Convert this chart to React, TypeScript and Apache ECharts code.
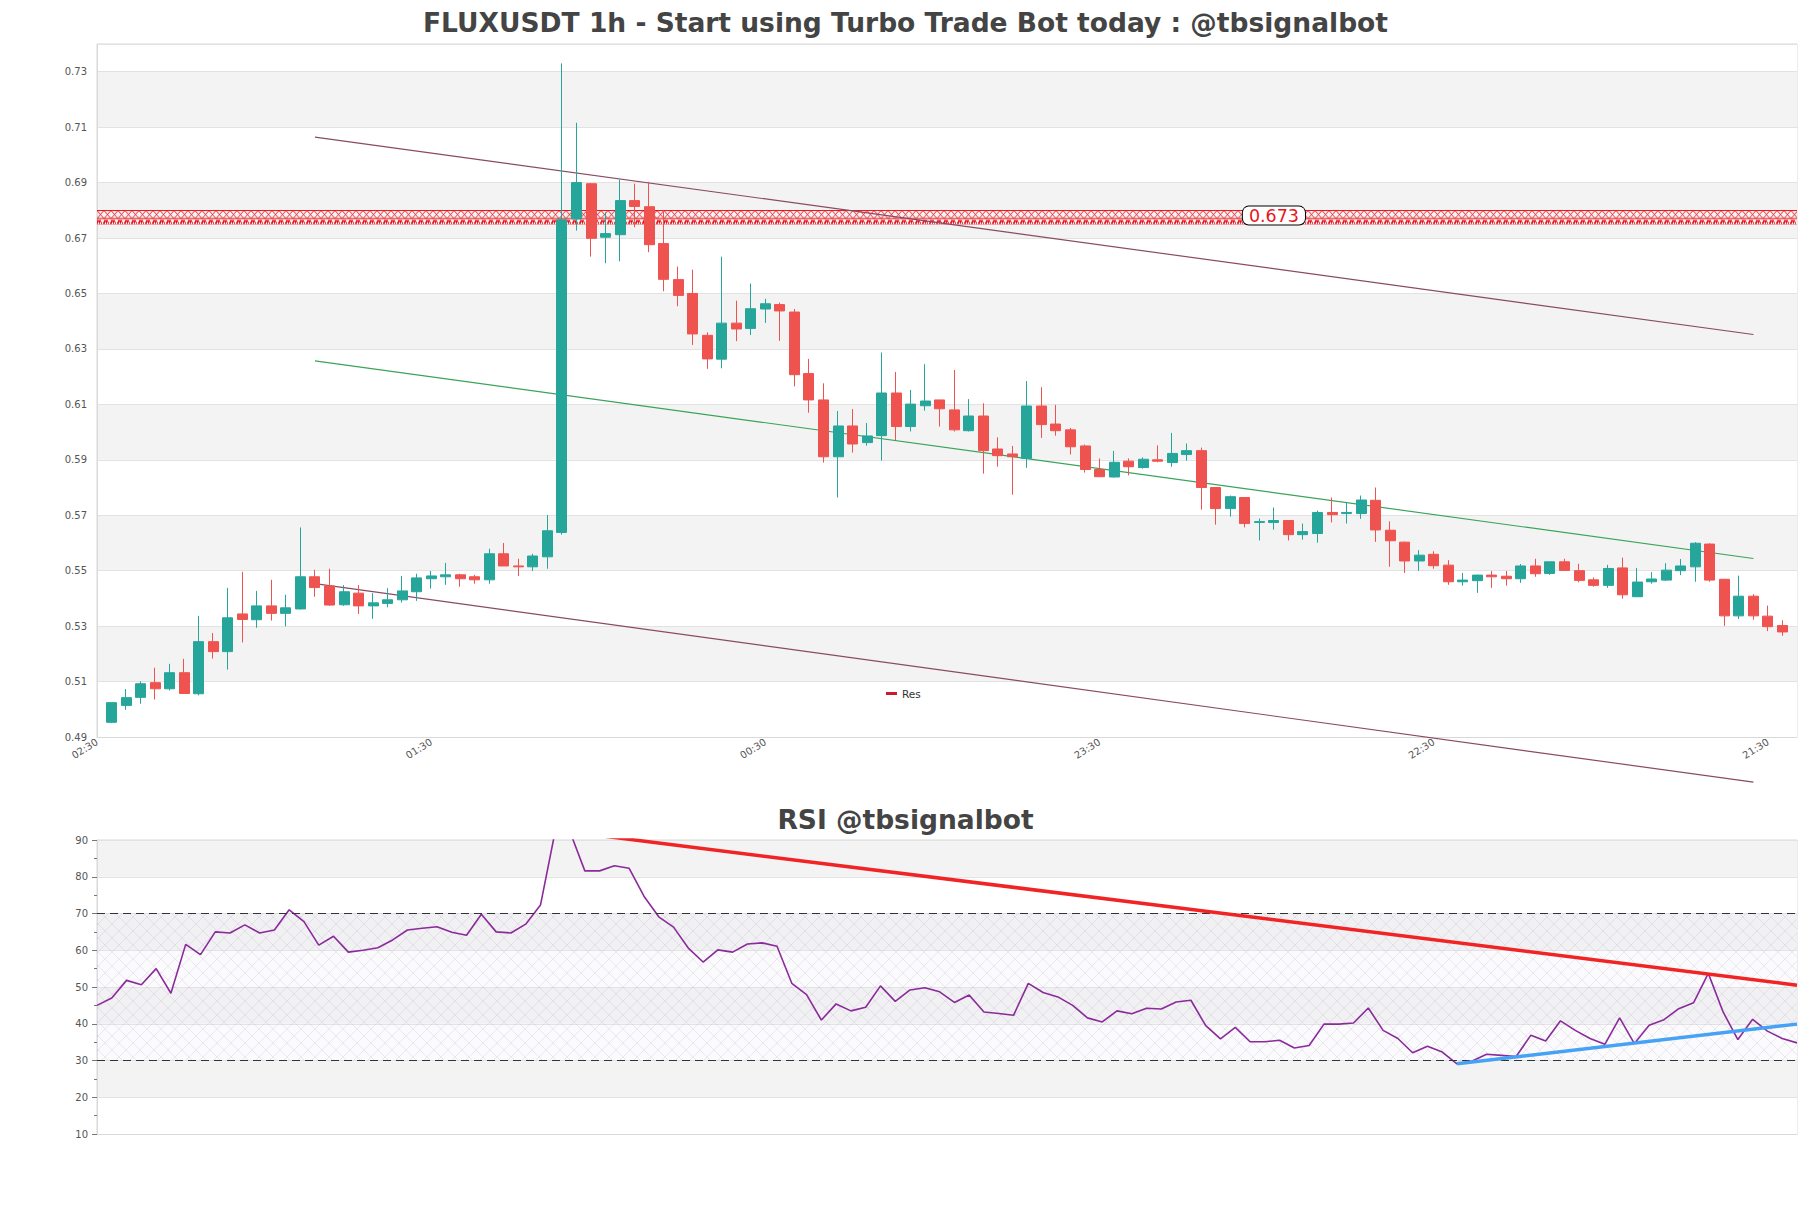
import React, { useEffect, useRef } from 'react';
import * as echarts from 'echarts';

const FONT = 'DejaVu Sans';
const MAIN_TITLE = 'FLUXUSDT 1h - Start using Turbo Trade Bot today : @tbsignalbot';
const RSI_TITLE = 'RSI @tbsignalbot';
const X_TICK_LABELS = ['02:30', '01:30', '00:30', '23:30', '22:30', '21:30'];
const X_TICK_STEP = 23;

const OPEN = [
  0.4953, 0.5014, 0.5043, 0.5096, 0.5074, 0.5132, 0.5056, 0.5244, 0.5208, 0.5344,
  0.5323, 0.5373, 0.5346, 0.5362, 0.5478, 0.5445, 0.5377, 0.5419, 0.5373, 0.5382,
  0.5395, 0.5424, 0.5471, 0.5478, 0.5485, 0.5478, 0.5467, 0.5561, 0.5517, 0.5514,
  0.5550, 0.5638, 0.6769, 0.6896, 0.6703, 0.6712, 0.6835, 0.6813, 0.6680, 0.6550,
  0.6500, 0.6349, 0.6263, 0.6393, 0.6374, 0.6444, 0.6460, 0.6433, 0.6211, 0.6116,
  0.5911, 0.6022, 0.5962, 0.5987, 0.6141, 0.6020, 0.6095, 0.6116, 0.6080, 0.6005,
  0.6058, 0.5939, 0.5921, 0.5905, 0.6094, 0.6029, 0.6008, 0.5950, 0.5865, 0.5838,
  0.5895, 0.5872, 0.5900, 0.5890, 0.5919, 0.5933, 0.5800, 0.5724, 0.5764, 0.5674,
  0.5674, 0.5681, 0.5630, 0.5634, 0.5710, 0.5706, 0.5706, 0.5754, 0.5646, 0.5603,
  0.5535, 0.5559, 0.5520, 0.5460, 0.5464, 0.5484, 0.5480, 0.5471, 0.5517, 0.5490,
  0.5532, 0.5500, 0.5467, 0.5447, 0.5510, 0.5406, 0.5460, 0.5466, 0.5500, 0.5514,
  0.5596, 0.5469, 0.5337, 0.5408, 0.5336, 0.5302,
];
const HIGH = [
  0.5024, 0.5073, 0.5101, 0.5150, 0.5164, 0.5182, 0.5337, 0.5275, 0.5438, 0.5496,
  0.5427, 0.5467, 0.5413, 0.5656, 0.5503, 0.5507, 0.5448, 0.5448, 0.5419, 0.5437,
  0.5481, 0.5489, 0.5499, 0.5528, 0.5489, 0.5485, 0.5579, 0.5600, 0.5543, 0.5561,
  0.5701, 0.7330, 0.7116, 0.6898, 0.6793, 0.6911, 0.6896, 0.6903, 0.6800, 0.6597,
  0.6586, 0.6360, 0.6633, 0.6474, 0.6536, 0.6481, 0.6467, 0.6444, 0.6264, 0.6176,
  0.6076, 0.6083, 0.6033, 0.6287, 0.6217, 0.6152, 0.6245, 0.6116, 0.6224, 0.6119,
  0.6104, 0.5981, 0.5950, 0.6184, 0.6162, 0.6098, 0.6015, 0.5955, 0.5905, 0.5932,
  0.5905, 0.5909, 0.5952, 0.5997, 0.5959, 0.5944, 0.5800, 0.5771, 0.5764, 0.5688,
  0.5728, 0.5681, 0.5670, 0.5717, 0.5764, 0.5746, 0.5771, 0.5800, 0.5678, 0.5605,
  0.5574, 0.5570, 0.5538, 0.5492, 0.5486, 0.5499, 0.5499, 0.5524, 0.5543, 0.5532,
  0.5543, 0.5525, 0.5475, 0.5521, 0.5547, 0.5510, 0.5495, 0.5527, 0.5542, 0.5603,
  0.5599, 0.5470, 0.5482, 0.5415, 0.5374, 0.5321,
];
const LOW = [
  0.4950, 0.4998, 0.5020, 0.5035, 0.5068, 0.5057, 0.5050, 0.5183, 0.5143, 0.5241,
  0.5294, 0.5320, 0.5299, 0.5360, 0.5406, 0.5373, 0.5373, 0.5344, 0.5326, 0.5368,
  0.5385, 0.5391, 0.5435, 0.5449, 0.5442, 0.5453, 0.5453, 0.5517, 0.5481, 0.5499,
  0.5507, 0.5630, 0.6727, 0.6633, 0.6609, 0.6616, 0.6739, 0.6649, 0.6508, 0.6454,
  0.6314, 0.6228, 0.6230, 0.6328, 0.6350, 0.6394, 0.6329, 0.6165, 0.6070, 0.5890,
  0.5764, 0.5926, 0.5951, 0.5897, 0.5971, 0.6002, 0.6077, 0.6020, 0.6002, 0.6002,
  0.5850, 0.5875, 0.5774, 0.5871, 0.5979, 0.5987, 0.5919, 0.5854, 0.5839, 0.5836,
  0.5844, 0.5868, 0.5891, 0.5875, 0.5897, 0.5720, 0.5666, 0.5695, 0.5656, 0.5609,
  0.5648, 0.5609, 0.5612, 0.5601, 0.5674, 0.5670, 0.5687, 0.5604, 0.5514, 0.5492,
  0.5499, 0.5507, 0.5449, 0.5446, 0.5420, 0.5438, 0.5446, 0.5456, 0.5478, 0.5485,
  0.5499, 0.5458, 0.5442, 0.5438, 0.5399, 0.5406, 0.5453, 0.5463, 0.5484, 0.5460,
  0.5460, 0.5301, 0.5326, 0.5323, 0.5282, 0.5265,
];
const CLOSE = [
  0.5024, 0.5042, 0.5092, 0.5074, 0.5132, 0.5057, 0.5244, 0.5208, 0.5330, 0.5324,
  0.5373, 0.5346, 0.5366, 0.5478, 0.5439, 0.5376, 0.5424, 0.5373, 0.5384, 0.5395,
  0.5427, 0.5474, 0.5481, 0.5485, 0.5471, 0.5467, 0.5561, 0.5517, 0.5514, 0.5553,
  0.5644, 0.6766, 0.6900, 0.6699, 0.6716, 0.6835, 0.6814, 0.6676, 0.6551, 0.6493,
  0.6354, 0.6264, 0.6393, 0.6372, 0.6445, 0.6463, 0.6437, 0.6207, 0.6116, 0.5911,
  0.6022, 0.5957, 0.5986, 0.6141, 0.6020, 0.6101, 0.6112, 0.6084, 0.6008, 0.6058,
  0.5933, 0.5915, 0.5911, 0.6094, 0.6027, 0.6005, 0.5947, 0.5865, 0.5839, 0.5891,
  0.5875, 0.5902, 0.5895, 0.5923, 0.5933, 0.5800, 0.5724, 0.5767, 0.5670, 0.5677,
  0.5681, 0.5630, 0.5641, 0.5710, 0.5702, 0.5710, 0.5755, 0.5647, 0.5608, 0.5535,
  0.5556, 0.5518, 0.5460, 0.5466, 0.5484, 0.5478, 0.5471, 0.5517, 0.5489, 0.5532,
  0.5501, 0.5465, 0.5447, 0.5508, 0.5413, 0.5459, 0.5470, 0.5502, 0.5517, 0.5599,
  0.5466, 0.5337, 0.5408, 0.5337, 0.5298, 0.5279,
];

const RSI = [
  45.0, 47.0, 51.8, 50.6, 55.0, 48.3, 61.6, 58.8, 65.0, 64.7,
  66.9, 64.7, 65.5, 71.0, 67.8, 61.4, 63.8, 59.5, 60.0, 60.7,
  62.8, 65.5, 66.0, 66.4, 64.9, 64.1, 69.8, 65.0, 64.7, 67.1,
  72.3, 92.5, 92.2, 81.6, 81.6, 83.0, 82.3, 74.7, 69.1, 66.3,
  60.6, 56.8, 60.1, 59.5, 61.7, 62.0, 61.1, 51.0, 47.9, 41.0,
  45.4, 43.5, 44.5, 50.3, 46.1, 49.2, 49.8, 48.7, 45.8, 47.8,
  43.2, 42.8, 42.3, 51.0, 48.5, 47.3, 45.0, 41.6, 40.5, 43.5,
  42.7, 44.2, 44.0, 45.9, 46.4, 39.5, 35.9, 39.0, 35.1, 35.1,
  35.5, 33.4, 34.1, 39.9, 39.9, 40.2, 44.3, 38.2, 36.0, 32.1,
  33.9, 32.3, 29.1, 29.8, 31.7, 31.4, 31.1, 36.9, 35.3, 40.8,
  38.2, 36.0, 34.4, 41.6, 34.6, 39.6, 41.1, 44.1, 45.7, 53.7,
  43.2, 35.7, 41.2, 38.0, 36.0, 34.8,
];

// trend lines: [candle index, price]
const UPPER_CHANNEL = [[14, 0.7064], [113, 0.6352]];
const LOWER_CHANNEL = [[14, 0.5453], [113, 0.4737]];
const MID_TREND = [[14, 0.6257], [113, 0.5544]];
const RES_ZONE = [0.6749, 0.6801];
const RES_LABEL = '0.673';
const RES_LABEL_POS = [80, 0.6781];
// RSI trend lines: [rsi index, value]
const RSI_RES_LINE = [[32, 92.2], [115, 50.5]];
const RSI_SUP_LINE = [[92, 29.1], [115, 39.9]];
const RSI_LEVELS = [70, 30];
const RSI_HATCH = [30, 70];

const UP = '#26a69a';
const DOWN = '#ef5350';
const GRID_LINE = '#e2e2e2';
const BAND = '#f3f3f3';
const BORDER = '#d9d9d9';

function makeHatch(): string {
  const c = document.createElement('canvas');
  c.width = 14;
  c.height = 14;
  const g = c.getContext('2d')!;
  g.fillStyle = 'rgba(235,228,240,0.18)';
  g.fillRect(0, 0, 14, 14);
  g.strokeStyle = 'rgba(165,155,180,0.34)';
  g.lineWidth = 0.6;
  g.beginPath();
  g.moveTo(0, 0); g.lineTo(14, 14);
  g.moveTo(14, 0); g.lineTo(0, 14);
  g.stroke();
  return c.toDataURL();
}

function makeZoneTile(h: number): string {
  const w = 7;
  const c = document.createElement('canvas');
  c.width = w;
  c.height = h;
  const g = c.getContext('2d')!;
  const red = '#e8141c';
  const xh = Math.round(h * 0.58);
  g.fillStyle = red;
  g.fillRect(0, 0, w, 1);
  g.fillRect(0, xh, w, 1);
  g.strokeStyle = red;
  g.lineWidth = 0.9;
  g.beginPath();
  g.moveTo(0, 0.5); g.lineTo(w, xh + 0.5);
  g.moveTo(w, 0.5); g.lineTo(0, xh + 0.5);
  g.stroke();
  const dy = Math.round(h * 0.72);
  g.fillRect(0, dy, 4, 2);
  for (let x = 0; x < w; x += 2) g.fillRect(x, h - 2, 1, 2);
  return c.toDataURL();
}

export default function App() {
  const ref = useRef<HTMLDivElement>(null);
  useEffect(() => {
    const el = ref.current!;
    const chart = echarts.init(el, undefined, { renderer: 'svg' });
    const n = OPEN.length;
    const mainCats = Array.from({ length: n + 2 }, (_, i) => String(i));
    const rsiCats = RSI.map((_, i) => String(i));
    const candleData = OPEN.map((o, i) => [i + 1, o, CLOSE[i], LOW[i], HIGH[i]]);
    const shift = (pts: number[][]) => pts.map(([i, v]) => [i + 1, v]);
    const hatch = makeHatch();

    const thinLine = (name: string, data: number[][], color: string, clip = true) => ({
      name,
      type: 'line',
      xAxisIndex: 0,
      yAxisIndex: 0,
      data: shift(data),
      symbol: 'none',
      clip,
      silent: true,
      lineStyle: { color, width: 1.2 },
      z: 3,
    });

    const option: any = {
      animation: false,
      backgroundColor: '#ffffff',
      textStyle: { fontFamily: FONT },
      title: [
        {
          text: MAIN_TITLE,
          left: 'center',
          top: 4,
          textStyle: { fontFamily: FONT, fontSize: 26.5, fontWeight: 'bold', color: '#444444' },
        },
        {
          text: RSI_TITLE,
          left: 'center',
          top: 801,
          textStyle: { fontFamily: FONT, fontSize: 26.5, fontWeight: 'bold', color: '#444444' },
        },
      ],
      legend: {
        data: [{ name: 'Res', icon: 'rect' }],
        left: 886,
        top: 688,
        padding: 0,
        itemWidth: 11,
        itemHeight: 3,
        textStyle: { fontFamily: FONT, fontSize: 10.5, color: '#333' },
      },
      grid: [
        { left: 97, top: 44, width: 1700, height: 693, show: true, borderColor: BORDER, borderWidth: 1 },
        { left: 97, top: 840, width: 1700, height: 294, show: true, borderColor: BORDER, borderWidth: 1 },
      ],
      xAxis: [
        {
          type: 'category',
          gridIndex: 0,
          data: mainCats,
          boundaryGap: false,
          axisLine: { lineStyle: { color: BORDER } },
          axisTick: { show: false },
          splitLine: { show: false },
          axisLabel: {
            interval: (idx: number) => idx % X_TICK_STEP === 0 && idx / X_TICK_STEP < X_TICK_LABELS.length,
            formatter: (_v: string, idx: number) => X_TICK_LABELS[Math.round(idx / X_TICK_STEP)] ?? '',
            rotate: 32,
            margin: 4,
            fontSize: 10,
            color: '#555',
            fontFamily: FONT,
          },
        },
        {
          type: 'category',
          gridIndex: 1,
          data: rsiCats,
          boundaryGap: false,
          axisLine: { lineStyle: { color: BORDER } },
          axisTick: { show: false },
          axisLabel: { show: false },
          splitLine: { show: false },
        },
      ],
      yAxis: [
        {
          type: 'value',
          gridIndex: 0,
          min: 0.49,
          max: 0.74,
          interval: 0.02,
          axisLine: { show: true, lineStyle: { color: BORDER } },
          axisTick: { show: false },
          axisLabel: {
            fontSize: 10,
            color: '#555',
            margin: 10,
            fontFamily: FONT,
            formatter: (v: number) => (v > 0.735 ? '' : v.toFixed(2)),
          },
          splitLine: { show: true, lineStyle: { color: GRID_LINE } },
          splitArea: { show: true, areaStyle: { color: ['#ffffff', BAND] } },
        },
        {
          type: 'value',
          gridIndex: 1,
          min: 10,
          max: 90,
          interval: 10,
          axisLine: { show: true, lineStyle: { color: BORDER } },
          axisTick: { show: true, length: 5, lineStyle: { color: '#777' } },
          minorTick: { show: true, splitNumber: 2, length: 3, lineStyle: { color: '#777' } },
          axisLabel: { fontSize: 10, color: '#555', margin: 9, fontFamily: FONT },
          splitLine: { show: true, lineStyle: { color: GRID_LINE } },
          splitArea: { show: true, areaStyle: { color: ['#ffffff', BAND] } },
        },
      ],
      series: [
        {
          name: 'candles',
          type: 'candlestick',
          xAxisIndex: 0,
          yAxisIndex: 0,
          data: candleData,
          encode: { x: 0, y: [1, 2, 3, 4] },
          barWidth: 10.5,
          itemStyle: { color: UP, color0: DOWN, borderColor: UP, borderColor0: DOWN, borderWidth: 1 },
          z: 4,
        },
        thinLine('upper', UPPER_CHANNEL, '#8a4a62'),
        thinLine('lower', LOWER_CHANNEL, '#8a4a62', false),
        thinLine('trend', MID_TREND, '#3aa35a'),
        {
          id: 'res',
          name: 'Res',
          type: 'line',
          xAxisIndex: 0,
          yAxisIndex: 0,
          data: [],
          symbol: 'none',
          itemStyle: { color: '#cc1a2e' },
          lineStyle: { color: '#cc1a2e' },
          z: 2,
          markArea: {
            silent: true,
            data: [[{ yAxis: RES_ZONE[0] }, { yAxis: RES_ZONE[1] }]],
            itemStyle: { color: 'rgba(230,20,28,0.35)' },
          },
          markPoint: {
            silent: true,
            symbol: 'rect',
            symbolSize: 0,
            data: [{ coord: [RES_LABEL_POS[0] + 1, RES_LABEL_POS[1]], value: RES_LABEL }],
            label: {
              show: true,
              position: 'inside',
              formatter: RES_LABEL,
              color: '#e8141c',
              fontSize: 17.5,
              fontFamily: FONT,
              backgroundColor: '#ffffff',
              borderColor: '#000000',
              borderWidth: 1,
              borderRadius: 6,
              padding: [0, 6],
              lineHeight: 18,
            },
          },
        },
        {
          name: 'RSI',
          type: 'line',
          xAxisIndex: 1,
          yAxisIndex: 1,
          data: RSI,
          symbol: 'none',
          lineStyle: { color: '#8b2a9b', width: 1.6 },
          z: 4,
          markArea: {
            silent: true,
            data: [[{ yAxis: RSI_HATCH[0] }, { yAxis: RSI_HATCH[1] }]],
            itemStyle: { color: { image: hatch, repeat: 'repeat', imageWidth: 14, imageHeight: 14 } },
          },
          markLine: {
            silent: true,
            symbol: 'none',
            label: { show: false },
            lineStyle: { color: '#333', type: [8, 5], width: 1.2 },
            data: RSI_LEVELS.map((v) => ({ yAxis: v })),
          },
        },
        {
          name: 'rsiRes',
          type: 'line',
          xAxisIndex: 1,
          yAxisIndex: 1,
          data: RSI_RES_LINE,
          symbol: 'none',
          lineStyle: { color: '#f02424', width: 3.5 },
          z: 5,
        },
        {
          name: 'rsiSup',
          type: 'line',
          xAxisIndex: 1,
          yAxisIndex: 1,
          data: RSI_SUP_LINE,
          symbol: 'none',
          lineStyle: { color: '#45a2f5', width: 3.5 },
          z: 5,
        },
      ],
    };
    chart.setOption(option);

    const yTop = chart.convertToPixel({ yAxisIndex: 0 }, RES_ZONE[1]) as number;
    const yBot = chart.convertToPixel({ yAxisIndex: 0 }, RES_ZONE[0]) as number;
    const h = Math.max(4, Math.round(yBot - yTop));
    const tile = makeZoneTile(h);
    chart.setOption({
      series: [
        {
          id: 'res',
          markArea: {
            itemStyle: { color: { image: tile, repeat: 'repeat-x', imageWidth: 7, imageHeight: h } },
          },
        },
      ],
    });

    return () => chart.dispose();
  }, []);
  return <div ref={ref} style={{ position: 'absolute', left: 0, top: 0, width: 1811, height: 1208 }} />;
}
